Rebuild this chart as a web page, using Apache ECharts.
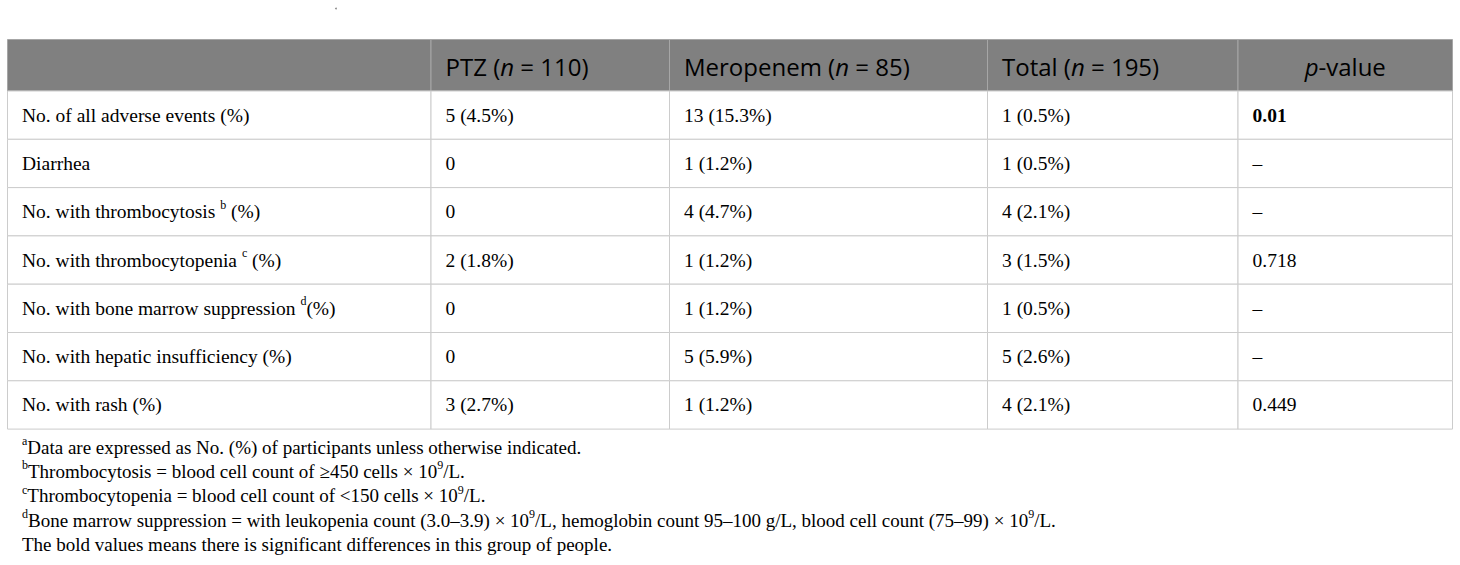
<!DOCTYPE html>
<html>
<head>
<meta charset="utf-8">
<script src="https://cdn.jsdelivr.net/npm/echarts@6/dist/echarts.min.js"></script>
<style>
  html, body { margin: 0; padding: 0; background: #fff; }
  #table { width: 1460px; height: 565px; }
</style>
</head>
<body>
<div id="table"></div>
<script>
// table content ( ^x = superscript, _x_ = italic )
var colHeads = ['', 'PTZ (_n_ = 110)', 'Meropenem (_n_ = 85)', 'Total (_n_ = 195)', '_p_-value'];
var rowLabels = [
    'No. of all adverse events (%)',
    'Diarrhea',
    'No. with thrombocytosis ^b (%)',
    'No. with thrombocytopenia ^c (%)',
    'No. with bone marrow suppression ^d(%)',
    'No. with hepatic insufficiency (%)',
    'No. with rash (%)'
];
var ptz = ['5 (4.5%)', '0', '0', '2 (1.8%)', '0', '0', '3 (2.7%)'];
var meropenem = ['13 (15.3%)', '1 (1.2%)', '4 (4.7%)', '1 (1.2%)', '1 (1.2%)', '5 (5.9%)', '1 (1.2%)'];
var total = ['1 (0.5%)', '1 (0.5%)', '4 (2.1%)', '3 (1.5%)', '1 (0.5%)', '5 (2.6%)', '4 (2.1%)'];
var pValues = ['0.01', '–', '–', '0.718', '–', '–', '0.449'];
var significant = [true, false, false, false, false, false, false];
var footnotes = [
    '^aData are expressed as No. (%) of participants unless otherwise indicated.',
    '^bThrombocytosis = blood cell count of ≥450 cells × 10^9/L.',
    '^cThrombocytopenia = blood cell count of <150 cells × 10^9/L.',
    '^dBone marrow suppression = with leukopenia count (3.0–3.9) × 10^9/L, hemoglobin count 95–100 g/L, blood cell count (75–99) × 10^9/L.',
    'The bold values means there is significant differences in this group of people.'
];

// layout
var colEdges = [7.5, 431, 669.5, 987.5, 1238, 1452.5];
var tableTop = 39.5, headH = 51.5, rowH = 48.3;
var padX = 14.5;
var noteTop = 447, noteGap = 24.4;

var SERIF = '"Liberation Serif", "Times New Roman", serif';
var SANS = '"Open Sans", "Noto Sans", sans-serif';

// turn ^x and _x_ markers into rich text
function toRich(s, base) {
    var parts = s.split(/(\^\w|_[^_]+_)/);
    var out = '';
    parts.forEach(function (p) {
        if (!p) return;
        if (p.charAt(0) === '^') out += '{' + base + 'Sup|' + p.slice(1) + '}';
        else if (p.charAt(0) === '_' && p.length > 2) out += '{' + base + 'It|' + p.slice(1, -1) + '}';
        else out += '{' + base + '|' + p + '}';
    });
    return out;
}

var rich = {
    h: { fontFamily: SANS, fontSize: 24, color: '#fff', lineHeight: 30 },
    hIt: { fontFamily: SANS, fontSize: 24, fontStyle: 'italic', color: '#fff', lineHeight: 30 },
    b: { fontFamily: SERIF, fontSize: 19.5, color: '#231f20', lineHeight: 26 },
    bBold: { fontFamily: SERIF, fontSize: 19.5, fontWeight: 'bold', color: '#231f20', lineHeight: 26 },
    bSup: { fontFamily: SERIF, fontSize: 12, color: '#231f20', lineHeight: 13, verticalAlign: 'top' },
    f: { fontFamily: SERIF, fontSize: 19, color: '#231f20', lineHeight: 24 },
    fSup: { fontFamily: SERIF, fontSize: 12, color: '#231f20', lineHeight: 12, verticalAlign: 'top' }
};

var columns = [rowLabels, ptz, meropenem, total, pValues];

// one data item per cell: [col, row], row 0 = header
var cells = [];
for (var r = 0; r <= rowLabels.length; r++) {
    for (var c = 0; c < columns.length; c++) cells.push([c, r]);
}
var notes = footnotes.map(function (t, i) { return [0, i]; });

function cellText(c, r) {
    if (r === 0) return toRich(colHeads[c], 'h');
    var v = columns[c][r - 1];
    if (c === 4 && significant[r - 1]) return '{bBold|' + v + '}';
    return toRich(v, 'b');
}

function renderCell(params, api) {
    var c = api.value(0), r = api.value(1);
    var y0 = r === 0 ? tableTop : tableTop + headH + (r - 1) * rowH;
    var y1 = r === 0 ? tableTop + headH : y0 + rowH;
    var p0 = api.coord([colEdges[c], y0]);
    var p1 = api.coord([colEdges[c + 1], y1]);
    var isHead = r === 0;
    var centered = isHead && c === 4;
    return {
        type: 'group',
        children: [{
            type: 'rect',
            shape: { x: p0[0], y: p0[1], width: p1[0] - p0[0], height: p1[1] - p0[1] },
            style: { fill: isHead ? '#808080' : '#fff', stroke: isHead ? '#a6a6a6' : '#cccccc', lineWidth: 1 }
        }, {
            type: 'text',
            x: centered ? (p0[0] + p1[0]) / 2 : p0[0] + padX,
            y: (p0[1] + p1[1]) / 2 + (isHead ? 1 : 0),
            style: {
                text: cellText(c, r),
                rich: rich,
                align: centered ? 'center' : 'left',
                verticalAlign: 'middle'
            }
        }]
    };
}

function renderNote(params, api) {
    var i = api.value(1);
    var p = api.coord([colEdges[0] + padX, noteTop + i * noteGap]);
    return {
        type: 'text',
        x: p[0],
        y: p[1],
        style: {
            text: toRich(footnotes[i], 'f'),
            rich: rich,
            align: 'left',
            verticalAlign: 'middle'
        }
    };
}

var myChart = echarts.init(document.getElementById('table'), null, { renderer: 'svg' });
var option = {
    animation: false,
    backgroundColor: '#fff',
    grid: { left: 0, right: 0, top: 0, bottom: 0 },
    xAxis: { type: 'value', min: 0, max: 1460, show: false },
    yAxis: { type: 'value', min: 0, max: 565, inverse: true, show: false },
    graphic: [{
        type: 'circle', shape: { cx: 336, cy: 8.5, r: 0.9 }, style: { fill: '#8a8a8a' }
    }],
    series: [{
        type: 'custom',
        silent: true,
        clip: false,
        renderItem: renderCell,
        data: cells
    }, {
        type: 'custom',
        silent: true,
        clip: false,
        renderItem: renderNote,
        data: notes
    }]
};
option && myChart.setOption(option);
window.addEventListener('resize', function () {
    myChart.resize();
});
</script>
</body>
</html>
